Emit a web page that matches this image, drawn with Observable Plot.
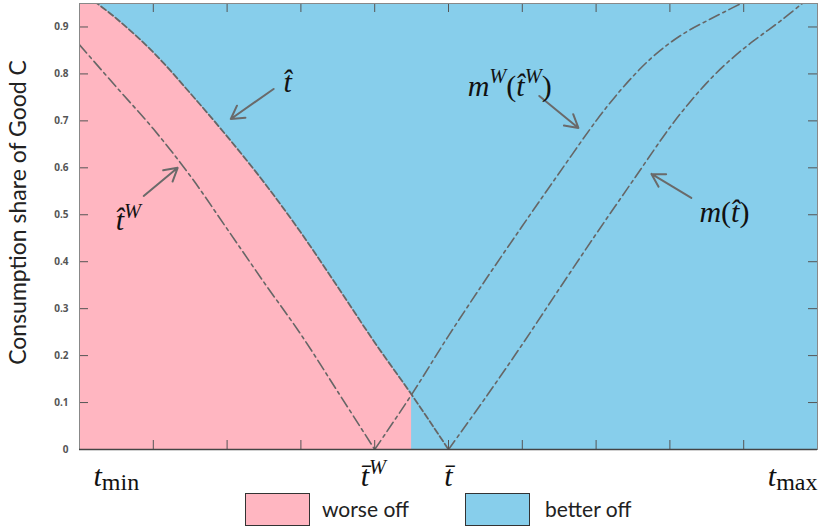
<!DOCTYPE html>
<html><head><meta charset="utf-8">
<script src="https://cdn.jsdelivr.net/npm/d3@7"></script>
<script src="https://cdn.jsdelivr.net/npm/@observablehq/plot@0.6"></script>
<style>
body{margin:0;background:#fff;}
#wrap{position:relative;width:822px;height:529px;overflow:hidden;}
.lg{position:absolute;top:493px;height:33px;width:65px;border:1.5px solid #333;box-sizing:border-box;}
.lt{position:absolute;top:496px;font-family:Lato,"Open Sans",sans-serif;font-size:21px;color:#222;line-height:26px;}
</style></head>
<body><div id="wrap"><div id="chart"></div>
<div class="lg" style="left:245px;background:#FFB6C1"></div><div class="lt" style="left:322px">worse off</div>
<div class="lg" style="left:465px;background:#87CEEB"></div><div class="lt" style="left:545px">better off</div>
</div>
<script>
// ---- data ----
const tHatX = [0, 0.05, 0.1, 0.15, 0.2, 0.25, 0.3, 0.35, 0.4, 0.45, 0.5];
const tHatY = [0.978, 0.918, 0.846, 0.759, 0.667, 0.569, 0.462, 0.346, 0.228, 0.117, 0];

const tHatWX = [0, 0.05, 0.1, 0.15, 0.2, 0.25, 0.3, 0.35, 0.4];
const tHatWY = [0.862, 0.772, 0.683, 0.583, 0.47, 0.356, 0.245, 0.123, 0];

const mWX = [0.4, 0.45, 0.5, 0.55, 0.6, 0.65, 0.7, 0.725, 0.75, 0.775, 0.8, 0.825, 0.85, 0.875, 0.9];
const mWY = [0, 0.117, 0.242, 0.361, 0.476, 0.589, 0.700, 0.750, 0.795, 0.834, 0.866, 0.892, 0.913, 0.933, 0.953];

const mX = [0.5, 0.55, 0.6, 0.65, 0.7, 0.75, 0.8, 0.825, 0.85, 0.875, 0.9, 0.925, 0.95, 0.98];
const mY = [0, 0.11, 0.224, 0.342, 0.459, 0.573, 0.686, 0.736, 0.781, 0.820, 0.854, 0.884, 0.913, 0.951];

const worseOffEnd = 0.45;

const yTicks = [0, 0.1, 0.2, 0.3, 0.4, 0.5, 0.6, 0.7, 0.8, 0.9];
const yTickLabels = ["0", "0.1", "0.2", "0.3", "0.4", "0.5", "0.6", "0.7", "0.8", "0.9"];
const xTicks = [0.1, 0.2, 0.3, 0.4, 0.5, 0.6, 0.7, 0.8, 0.9];

const xLabelPos = [0, 0.4, 0.5, 1];
const xLabelText = ["tmin", "t̄W", "t̄", "tmax"];

const curveLabelText = ["t̂", "t̂W", "mW(t̂W)", "m(t̂)"];
const curveLabelX = [0.282, 0.049, 0.526, 0.840];
const curveLabelY = [0.781, 0.487, 0.774, 0.504];

const arrowX1 = [0.263, 0.087, 0.623, 0.829];
const arrowY1 = [0.768, 0.540, 0.753, 0.536];
const arrowX2 = [0.205, 0.133, 0.676, 0.775];
const arrowY2 = [0.704, 0.600, 0.685, 0.587];

const yTitle = "Consumption share of Good C";

// ---- build ----
const pts = (xs, ys) => xs.map((x, i) => ({x, y: ys[i]}));
const tHat = pts(tHatX, tHatY);
const tHatW = pts(tHatWX, tHatWY);
const mW = pts(mWX, mWY);
const m = pts(mX, mY);
const pinkRegion = tHat.filter(d => d.x <= worseOffEnd);
const arrows = arrowX1.map((x1, i) => ({x1, y1: arrowY1[i], x2: arrowX2[i], y2: arrowY2[i]}));
const curveLabels = curveLabelText.map((t, i) => ({t, x: curveLabelX[i], y: curveLabelY[i]}));
const xLabels = xLabelText.map((t, i) => ({t, x: xLabelPos[i]}));

const W = 822, H = 500, mL = 79, mR = 5, mT = 3, mB = 51;
const plotW = W - mL - mR, plotH = H - mT - mB, tk = 9;
const lineCol = "#666";
const dashDot = "11,4,3,4";
const mathFont = "'Liberation Serif', serif";
const mathSize = 30;

const xLabelMark = (i, anchor, dx) => Plot.text([xLabels[i]], {x: "x", y: 0, text: "t", dy: 27, dx,
  textAnchor: anchor, fontFamily: mathFont, fontSize: mathSize, fill: "#111"});

const chart = Plot.plot({
  width: W, height: H,
  marginLeft: mL, marginRight: mR, marginTop: mT, marginBottom: mB,
  x: {domain: [0, 1], axis: null},
  y: {domain: [0, 0.95], axis: null},
  style: {background: "transparent"},
  marks: [
    Plot.frame({fill: "#87CEEB", stroke: null}),
    Plot.areaY(pinkRegion, {x: "x", y: "y", fill: "#FFB6C1", curve: "catmull-rom", clip: true}),
    Plot.line(tHat, {x: "x", y: "y", stroke: lineCol, strokeWidth: 1.8, strokeDasharray: "6,3", curve: "catmull-rom", clip: true}),
    Plot.line(tHatW, {x: "x", y: "y", stroke: lineCol, strokeWidth: 1.6, strokeDasharray: dashDot, curve: "catmull-rom", clip: true}),
    Plot.line(mW, {x: "x", y: "y", stroke: lineCol, strokeWidth: 1.6, strokeDasharray: dashDot, curve: "catmull-rom", clip: true}),
    Plot.line(m, {x: "x", y: "y", stroke: lineCol, strokeWidth: 1.6, strokeDasharray: dashDot, curve: "catmull-rom", clip: true}),
    // inward ticks
    Plot.tickX(xTicks, {x: d => d, insetTop: plotH - tk, stroke: "#555"}),
    Plot.tickX(xTicks, {x: d => d, insetBottom: plotH - tk, stroke: "#555"}),
    Plot.tickY(yTicks.slice(1), {y: d => d, insetRight: plotW - tk, stroke: "#555"}),
    Plot.tickY(yTicks.slice(1), {y: d => d, insetLeft: plotW - tk, stroke: "#555"}),
    Plot.frame({stroke: "#888"}),
    Plot.ruleY([0], {stroke: "#444", strokeWidth: 1.3}),
    // y tick labels
    Plot.text(yTicks, {x: 0, y: d => d, text: (d, i) => yTickLabels[i], textAnchor: "end", dx: -11,
      fontFamily: "'Open Sans', sans-serif", fontSize: 10, fontWeight: "bold", fill: "#555"}),
    // y title
    Plot.text([yTitle], {frameAnchor: "left", text: d => d, rotate: -90, textAnchor: "middle", dx: -61, dy: -14,
      fontFamily: "Lato, 'Open Sans', sans-serif", fontSize: 23, fill: "#222"}),
    // arrows
    Plot.arrow(arrows, {x1: "x1", y1: "y1", x2: "x2", y2: "y2", stroke: "#6a6a6a", strokeWidth: 2, headLength: 11}),
    // curve labels
    Plot.text(curveLabels.slice(0, 1), {x: "x", y: "y", text: "t", textAnchor: "middle",
      fontFamily: mathFont, fontSize: mathSize, fill: "#111"}),
    Plot.text(curveLabels.slice(1), {x: "x", y: "y", text: "t", textAnchor: "start",
      fontFamily: mathFont, fontSize: mathSize, fill: "#111"}),
    // x labels
    xLabelMark(0, "start", 14),
    xLabelMark(1, "start", -14),
    xLabelMark(2, "middle", 0),
    xLabelMark(3, "end", 0)
  ]
});

// ---- math typesetting (sub/superscripts as tspans) ----
const mathParts = {
  "t̂": [["t\u0302", "i"]],
  "t̂W": [["t\u0302", "i"], ["W", "sup"]],
  "mW(t̂W)": [["m", "i"], ["W", "sup"], ["(", "n"], ["t\u0302", "i"], ["W", "sup"], [")", "n"]],
  "m(t̂)": [["m", "i"], ["(", "n"], ["t\u0302", "i"], [")", "n"]],
  "tmin": [["t", "i"], ["min", "sub"]],
  "tmax": [["t", "i"], ["max", "sub"]],
  "t̄W": [["t\u0304", "i"], ["W", "sup"]],
  "t̄": [["t\u0304", "i"]]
};
const NS = "http://www.w3.org/2000/svg";
const size = mathSize;
d3.select(chart).selectAll("text").each(function () {
  const parts = mathParts[this.textContent];
  if (!parts) return;
  while (this.firstChild) this.removeChild(this.firstChild);
  let shift = 0;
  for (const [s, kind] of parts) {
    const ts = document.createElementNS(NS, "tspan");
    let target = 0, fs = size;
    if (kind === "sup") { target = -0.42 * size; fs = 0.68 * size; }
    else if (kind === "sub") { target = 0.12 * size; fs = 0.8 * size; }
    ts.setAttribute("font-size", fs);
    ts.setAttribute("font-style", (kind === "i" || kind === "sup") ? "italic" : "normal");
    if (target !== shift) ts.setAttribute("dy", target - shift);
    shift = target;
    ts.textContent = s;
    this.appendChild(ts);
  }
});

document.getElementById("chart").appendChild(chart);
</script>
</body></html>
